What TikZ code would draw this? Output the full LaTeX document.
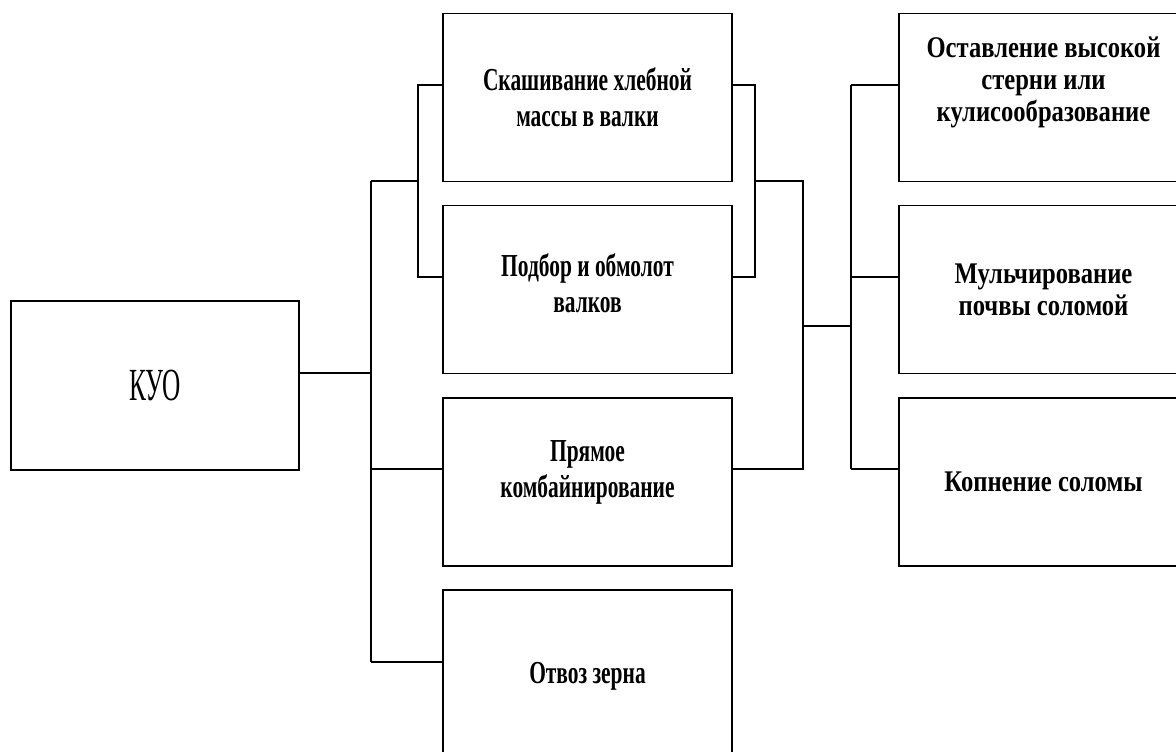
\documentclass[tikz,border=0pt]{standalone}
\usepackage{fontspec}
\setmainfont{Liberation Serif}
\newfontfamily\midfont[FakeStretch=0.67]{Liberation Serif}
\newfontfamily\resfont[FakeStretch=0.82]{Liberation Serif}
\newfontfamily\kuofont[FakeStretch=0.55]{Liberation Serif}

\begin{document}
\begin{tikzpicture}[x=1pt,y=-1pt,line width=1.6pt,
  box/.style={draw,minimum width=289pt,minimum height=168pt,inner sep=0pt,align=center},
  mid/.style={box,font=\midfont\bfseries\fontsize{32}{36}\selectfont},
  res/.style={box,font=\resfont\bfseries\fontsize{30}{32}\selectfont},
  lift/.style={text depth=#1}]
\useasboundingbox (0,0) rectangle (1176,752);
\clip (0,0) rectangle (1176,752);
% boxes
\node[box,minimum width=288pt,minimum height=169pt,font=\kuofont\fontsize{46}{50}\selectfont] (kuo) at (155,385.5) {КУО};
\node[mid] (m1) at (587.5,97.5) {Скашивание хлебной\\массы в валки};
\node[mid,lift=12pt] (m2) at (587.5,289.5) {Подбор и обмолот\\валков};
\node[mid,lift=25pt] (m3) at (587.5,482) {Прямое\\комбайнирование};
\node[mid,lift=2pt] (m4) at (587.5,674) {Отвоз зерна};
\node[res,lift=36pt] (r1) at (1043.5,97.5) {Оставление высокой\\стерни или\\кулисообразование};
\node[res] (r2) at (1043.5,289.5) {Мульчирование\\почвы соломой};
\node[res] (r3) at (1043.5,482) {Копнение соломы};
% junction points
\coordinate (kj) at (371,373);
\coordinate (bt) at (371,181);
\coordinate (bb) at (371,662);
\coordinate (lm) at (418,181);
\coordinate (la) at (418,85);
\coordinate (lb) at (418,277);
\coordinate (ra) at (755,85);
\coordinate (rb) at (755,277);
\coordinate (rm) at (755,181);
\coordinate (pa) at (803,181);
\coordinate (pb) at (803,469);
\coordinate (pm) at (803,326);
\coordinate (qm) at (851,326);
\coordinate (qa) at (851,85);
\coordinate (qb) at (851,277);
\coordinate (qc) at (851,469);
% left side
\draw (kuo.east |- kj) -- (kj);
\draw (bt) -- (bb);
\draw (bt) -- (lm);
\draw (m1.west |- la) -- (la) -- (lb) -- (m2.west |- lb);
\draw (bt |- pb) -- (m3.west |- pb);
\draw (bb) -- (m4.west |- bb);
% right side
\draw (m1.east |- ra) -- (ra) -- (rb) -- (m2.east |- rb);
\draw (rm) -- (pa) -- (pb) -- (m3.east |- pb);
\draw (pm) -- (qm);
\draw (qa) -- (qc);
\foreach \n/\c in {r1/qa,r2/qb,r3/qc}{\draw (\c) -- (\n.west |- \c);};
\end{tikzpicture}
\end{document}
